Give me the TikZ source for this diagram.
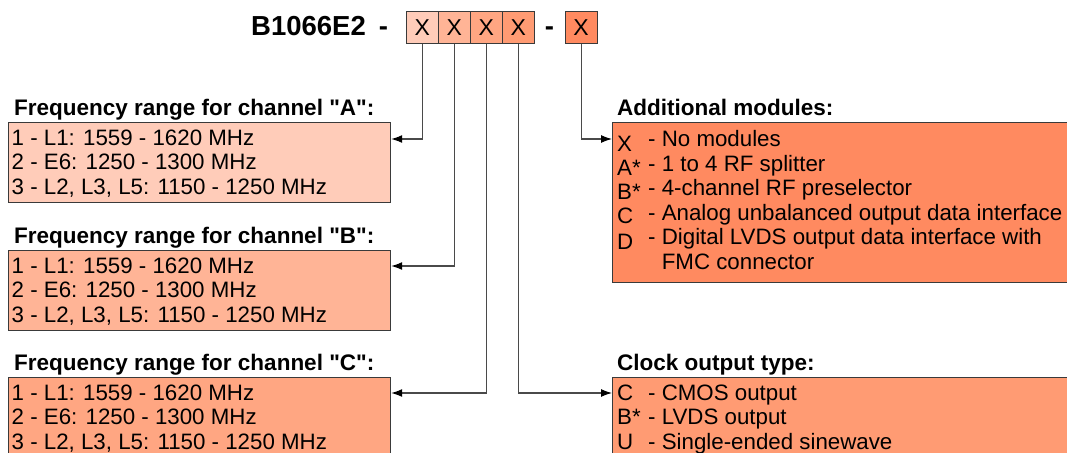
\documentclass[tikz,border=0pt]{standalone}
\usepackage{fontspec}
\setmainfont{Liberation Sans}
\font\qfb="Liberation Sans/B" at 22.5pt
\newcommand\dq{{\qfb\char34}}
\usetikzlibrary{calc,arrows.meta}
\definecolor{cA}{HTML}{FFCCB9}
\definecolor{cB}{HTML}{FFB496}
\definecolor{cC}{HTML}{FFA682}
\definecolor{cD}{HTML}{FF9B73}
\definecolor{cE}{HTML}{FF8A60}
\definecolor{bordercol}{HTML}{3A3A3A}
\definecolor{linecol}{HTML}{4A4A4A}
\begin{document}
\begin{tikzpicture}[x=1pt,y=-1pt,
  box/.style={draw=bordercol, line width=1.2pt, inner sep=0pt, anchor=north west},
  codebox/.style={box, minimum width=32pt, minimum height=32.3pt, font=\fontsize{23}{23}\selectfont},
  txt/.style={inner sep=0pt, anchor=base west, font=\fontsize{22.3}{24.5}\selectfont},
  head/.style={inner sep=0pt, anchor=base west, font=\fontsize{22.5}{26}\selectfont\bfseries},
  conn/.style={draw=linecol, line width=1.1pt, -{Latex[length=11pt,width=8pt,color=black]}}]
\useasboundingbox (0,0) rectangle (1067,452);
\clip (0,0) rectangle (1067,452);

% title and code boxes
\node[inner sep=0pt, anchor=base west, font=\fontsize{27.5}{30}\selectfont\bfseries] (title) at (251,35.5) {B1066E2};
\node[inner sep=0pt, anchor=base, font=\fontsize{27.5}{30}\selectfont\bfseries] (dash1) at (383.5,35.5) {-};
\node[inner sep=0pt, anchor=base, font=\fontsize{27.5}{30}\selectfont\bfseries] (dash2) at (549.5,35.5) {-};
\node[codebox, fill=cA] (xa) at (405.7,11) {X};
\node[codebox, fill=cB] (xb) at (437.7,11) {X};
\node[codebox, fill=cC] (xc) at (469.7,11) {X};
\node[codebox, fill=cD] (xd) at (501.7,11) {X};
\node[codebox, fill=cE] (xe) at (564.5,11) {X};

% channel A
\node[head] (hA) at (14,115.5) {Frequency range for channel \dq A\dq :};
\node[box, fill=cA, minimum width=382pt, minimum height=80pt] (bA) at (8,122) {};
\node[txt] (a1) at (11.5,145) {1 - L1: 1559 - 1620 MHz};
\node[txt] (a2) at (11.5,169.5) {2 - E6: 1250 - 1300 MHz};
\node[txt] (a3) at (11.5,194) {3 - L2, L3, L5: 1150 - 1250 MHz};

% channel B
\node[head] (hB) at (14,243.5) {Frequency range for channel \dq B\dq :};
\node[box, fill=cB, minimum width=382pt, minimum height=80pt] (bB) at (8,250) {};
\node[txt] (b1) at (11.5,273) {1 - L1: 1559 - 1620 MHz};
\node[txt] (b2) at (11.5,297.5) {2 - E6: 1250 - 1300 MHz};
\node[txt] (b3) at (11.5,322) {3 - L2, L3, L5: 1150 - 1250 MHz};

% channel C
\node[head] (hC) at (14,370.5) {Frequency range for channel \dq C\dq :};
\node[box, fill=cC, minimum width=382pt, minimum height=90pt] (bC) at (8,377) {};
\node[txt] (c1) at (11.5,400) {1 - L1: 1559 - 1620 MHz};
\node[txt] (c2) at (11.5,424.5) {2 - E6: 1250 - 1300 MHz};
\node[txt] (c3) at (11.5,449) {3 - L2, L3, L5: 1150 - 1250 MHz};

% additional modules
\node[head] (hM) at (617,115.5) {Additional modules:};
\node[box, fill=cE, minimum width=470pt, minimum height=160pt] (bM) at (612,122) {};
\node[txt] (mk1) at (617,151) {X};
\node[txt] (mk2) at (617,175) {A*};
\node[txt] (mk3) at (617,199) {B*};
\node[txt] (mk4) at (617,223.5) {C};
\node[txt] (mk5) at (617,249) {D};
\node[txt] (m1) at (648,146.5) {- No modules};
\node[txt] (m2) at (648,171) {- 1 to 4 RF splitter};
\node[txt] (m3) at (648,195.5) {- 4-channel RF preselector};
\node[txt] (m4) at (648,220) {- Analog unbalanced output data interface};
\node[txt] (m5) at (648,244.5) {- Digital LVDS output data interface with};
\node[txt] (m6) at (648,269) {\hphantom{- }FMC connector};

% clock output
\node[head] (hK) at (617,370.5) {Clock output type:};
\node[box, fill=cD, minimum width=470pt, minimum height=90pt] (bK) at (612,377) {};
\node[txt] (kk1) at (617,400) {C};
\node[txt] (kk2) at (617,424.5) {B*};
\node[txt] (kk3) at (617,449) {U};
\node[txt] (k1) at (648,400) {- CMOS output};
\node[txt] (k2) at (648,424.5) {- LVDS output};
\node[txt] (k3) at (648,449) {- Single-ended sinewave};

% connectors
\draw[conn] (xa.south) |- ($(bA.north east)+(0,17)$);
\draw[conn] (xb.south) |- ($(bB.north east)+(0,16)$);
\draw[conn] (xc.south) |- ($(bC.north east)+(0,16)$);
\draw[conn] (xd.south) |- ($(bK.north west)+(0,16)$);
\draw[conn] (xe.south) |- ($(bM.north west)+(0,17)$);
\end{tikzpicture}
\end{document}
